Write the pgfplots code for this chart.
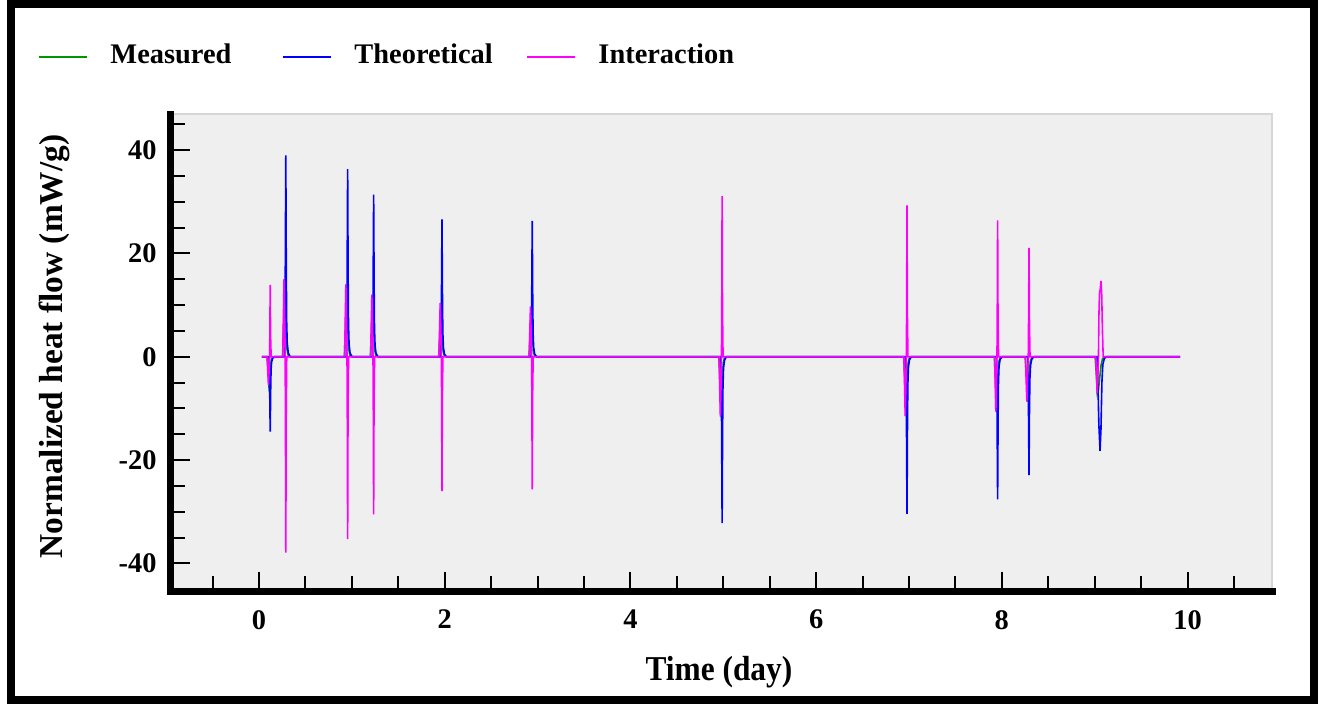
\documentclass[border=0pt]{standalone}
\usepackage{pgfplots}
\pgfplotsset{compat=1.18}
\usepackage{fontspec}
\setmainfont{Liberation Serif}
\definecolor{bgc}{RGB}{239,239,239}
\definecolor{brc}{RGB}{214,214,214}
\definecolor{mgreen}{RGB}{0,150,0}
\definecolor{tblue}{RGB}{0,0,255}
\definecolor{imag}{RGB}{255,0,255}
\begin{document}
\begin{tikzpicture}
\useasboundingbox (0,0) rectangle (1322bp,704bp);
\fill[white] (0,0) rectangle (1322bp,704bp);
\draw[line width=8bp] (11bp,3.5bp) rectangle (1313.5bp,699.5bp);
\begin{axis}[
  at={(170.3bp,112.5bp)}, anchor=south west,
  scale only axis, width=1101.7bp, height=477bp,
  xmin=-0.955, xmax=10.91, ymin=-45.45, ymax=46.9,
  axis background/.style={fill=bgc, draw=brc, line width=2bp},
  axis lines=left,
  axis line style={-, line width=7bp, line cap=rect, black},
  every outer x axis line/.append style={-},
  every outer y axis line/.append style={-},
  xtick={0,2,...,10}, ytick={-40,-20,0,20,40},
  minor xtick={-0.5,0.5,1,1.5,2.5,3,3.5,4.5,5,5.5,6.5,7,7.5,8.5,9,9.5,10.5},
  minor ytick={-35,-30,-25,-15,-10,-5,5,10,15,25,30,35,45},
  tick align=inside,
  major tick length=19.5bp, minor tick length=15bp,
  tick style={black, line width=2bp},
  /pgf/number format/assume math mode=true,
  tick label style={font=\fontsize{28.5}{30}\selectfont\bfseries},
  xticklabel style={anchor=north, inner sep=0pt, yshift=-18.5bp},
  yticklabel style={anchor=east, inner sep=0pt, xshift=-13.6bp},
  xlabel={Time (day)},
  ylabel={Normalized heat flow (mW/g)},
  every axis x label/.style={at={(axis description cs:0.498,-0.1698)}, anchor=center, font=\fontsize{35}{38}\selectfont\bfseries\addfontfeatures{FakeStretch=0.9}},
  every axis y label/.style={at={(axis description cs:-0.1056,0.5136)}, anchor=center, rotate=90, font=\fontsize{33.5}{36}\selectfont\bfseries},
  legend columns=3,
  legend cell align=left,
  legend style={at={(axis description cs:-0.1201,1.1264)}, anchor=west, draw=none, fill=none, inner sep=0pt, outer sep=0pt,
    font=\fontsize{28.5}{30}\selectfont\bfseries,
    nodes={inner sep=0pt, outer sep=0pt},
    /tikz/every odd column/.style={column sep=23bp},
    /tikz/every even column/.style={column sep=0bp}},
  legend image code/.code={\draw[#1, line width=1.5bp] (0bp,-3bp) -- (48bp,-3bp);},
]
\addplot[mgreen, line width=1.6bp] coordinates {
(0.032,0)
(0.086,0) (0.099,-2.75) (0.107,-5.5) (0.115,-4.68) (0.124,-1.93) (0.133,-0.55) (0.146,-0.11) (0.166,0)
(0.254,0) (0.267,7.5) (0.275,15) (0.283,12.75) (0.292,5.25) (0.301,1.5) (0.314,0.3) (0.334,0)
(0.920,0) (0.933,7) (0.941,14) (0.949,11.9) (0.958,4.9) (0.967,1.4) (0.980,0.28) (1.000,0)
(1.200,0) (1.213,6) (1.221,12) (1.229,10.2) (1.238,4.2) (1.247,1.2) (1.260,0.24) (1.280,0)
(1.936,0) (1.949,5.2) (1.957,10.4) (1.965,8.84) (1.974,3.64) (1.983,1.04) (1.996,0.21) (2.016,0)
(2.908,0) (2.921,4.85) (2.929,9.7) (2.937,8.25) (2.946,3.4) (2.955,0.97) (2.968,0.19) (2.988,0)
(4.953,0) (4.966,-5.8) (4.974,-11.6) (4.982,-9.86) (4.991,-4.06) (5.000,-1.16) (5.013,-0.23) (5.033,0)
(6.944,0) (6.957,-5.75) (6.965,-11.5) (6.973,-9.78) (6.982,-4.03) (6.991,-1.15) (7.004,-0.23) (7.024,0)
(7.920,0) (7.933,-5.3) (7.941,-10.6) (7.949,-9.01) (7.958,-3.71) (7.967,-1.06) (7.980,-0.21) (8.000,0)
(8.251,0) (8.267,-4.35) (8.276,-8.7) (8.286,-7.4) (8.297,-3.05) (8.307,-0.87) (8.323,-0.17) (8.347,0)
(9.005,0) (9.018,-3.5) (9.028,-7.1) (9.040,-6.5) (9.055,-4) (9.070,-1.5) (9.085,-0.4) (9.110,0)
(9.92,0)
};
\addlegendentry{\makebox[171.5bp][l]{Measured}}
\addplot[tblue, line width=1.6bp] coordinates {
(0.032,0)
(0.108,0) (0.115,-5.8) (0.121,-14.5) (0.126,-6.53) (0.130,-2.61) (0.136,-1.02) (0.147,-0.29) (0.168,0)
(0.276,0) (0.283,15.6) (0.289,39) (0.294,17.55) (0.298,7.02) (0.304,2.73) (0.315,0.78) (0.336,0)
(0.942,0) (0.949,14.52) (0.955,36.3) (0.960,16.34) (0.964,6.53) (0.970,2.54) (0.981,0.73) (1.002,0)
(1.222,0) (1.229,12.56) (1.235,31.4) (1.240,14.13) (1.244,5.65) (1.250,2.2) (1.261,0.63) (1.282,0)
(1.958,0) (1.965,10.64) (1.971,26.6) (1.976,11.97) (1.980,4.79) (1.986,1.86) (1.997,0.53) (2.018,0)
(2.930,0) (2.937,10.52) (2.943,26.3) (2.948,11.84) (2.952,4.73) (2.958,1.84) (2.969,0.53) (2.990,0)
(4.975,0) (4.982,-12.88) (4.988,-32.2) (4.993,-14.49) (4.997,-5.8) (5.003,-2.25) (5.014,-0.64) (5.035,0)
(6.966,0) (6.973,-12.16) (6.979,-30.4) (6.984,-13.68) (6.988,-5.47) (6.994,-2.13) (7.005,-0.61) (7.026,0)
(7.942,0) (7.949,-11.04) (7.955,-27.6) (7.960,-12.42) (7.964,-4.97) (7.970,-1.93) (7.981,-0.55) (8.002,0)
(8.279,0) (8.287,-9.16) (8.293,-22.9) (8.298,-10.31) (8.303,-4.12) (8.310,-1.6) (8.323,-0.46) (8.347,0)
(9.025,0) (9.035,-5) (9.045,-13) (9.058,-18.2) (9.068,-14) (9.078,-5) (9.088,-1.5) (9.105,-0.3) (9.130,0)
(9.92,0)
};
\addlegendentry{\makebox[171.5bp][l]{Theoretical}}
\addplot[imag, line width=1.6bp] coordinates {
(0.032,0)
(0.088,0) (0.095,-2.75) (0.102,-5.5) (0.109,-2.75) (0.114,0) (0.117,4.17) (0.121,13.9) (0.125,4.17) (0.131,0)
(0.256,0) (0.263,7.5) (0.270,15) (0.277,7.5) (0.282,0) (0.285,-11.37) (0.289,-37.9) (0.293,-11.37) (0.299,0)
(0.922,0) (0.929,7) (0.936,14) (0.943,7) (0.948,0) (0.951,-10.59) (0.955,-35.3) (0.959,-10.59) (0.965,0)
(1.202,0) (1.209,6) (1.216,12) (1.223,6) (1.228,0) (1.231,-9.15) (1.235,-30.5) (1.239,-9.15) (1.245,0)
(1.938,0) (1.945,5.2) (1.952,10.4) (1.959,5.2) (1.964,0) (1.967,-7.8) (1.971,-26) (1.975,-7.8) (1.981,0)
(2.910,0) (2.917,4.85) (2.924,9.7) (2.931,4.85) (2.936,0) (2.939,-7.71) (2.943,-25.7) (2.947,-7.71) (2.953,0)
(4.955,0) (4.962,-5.8) (4.969,-11.6) (4.976,-5.8) (4.981,0) (4.984,9.33) (4.988,31.1) (4.992,9.33) (4.998,0)
(6.946,0) (6.953,-5.75) (6.960,-11.5) (6.967,-5.75) (6.972,0) (6.975,8.79) (6.979,29.3) (6.983,8.79) (6.989,0)
(7.922,0) (7.929,-5.3) (7.936,-10.6) (7.943,-5.3) (7.948,0) (7.951,7.92) (7.955,26.4) (7.959,7.92) (7.965,0)
(8.255,0) (8.262,-4.35) (8.270,-8.7) (8.277,-4.35) (8.285,0) (8.288,6.33) (8.293,21.1) (8.298,6.33) (8.304,0)
(9.012,0) (9.020,-3.5) (9.028,-7.1) (9.035,-3.5) (9.041,0) (9.046,8) (9.052,12.3) (9.060,13) (9.068,14.7) (9.076,12) (9.084,5) (9.092,0)
(9.92,0)
};
\addlegendentry{Interaction}
\end{axis}
\end{tikzpicture}
\end{document}
